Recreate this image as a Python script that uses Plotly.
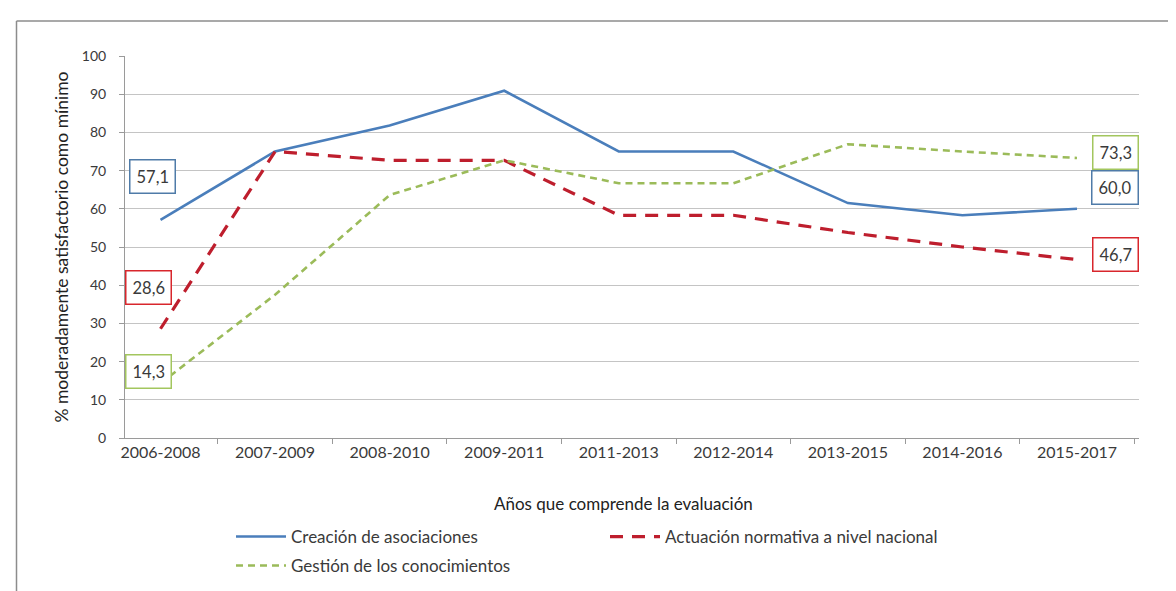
import plotly.graph_objects as go

# ---------------- data ----------------
periodos = ["2006-2008", "2007-2009", "2008-2010", "2009-2011", "2011-2013",
            "2012-2014", "2013-2015", "2014-2016", "2015-2017"]
creacion = [57.1, 75.0, 81.8, 90.9, 75.0, 75.0, 61.5, 58.3, 60.0]
actuacion = [28.6, 75.0, 72.7, 72.7, 58.3, 58.3, 53.8, 50.0, 46.7]
gestion = [14.3, 37.5, 63.6, 72.7, 66.7, 66.7, 76.9, 75.0, 73.3]
nombres = ["Creación de asociaciones", "Actuación normativa a nivel nacional",
           "Gestión de los conocimientos"]
y_ticks = list(range(0, 101, 10))
titulo_x = "Años que comprende la evaluación"
titulo_y = "% moderadamente satisfactorio como mínimo"

# ---------------- layout geometry (pixels) ----------------
W, H = 1176, 591
L, R, T, B = 117, 1131, 48, 430
pw, ph = R - L, B - T


def px(x):
    return (x - L) / pw


def py(y):
    return (B - y) / ph


FONT = "Lato"
TXT = "#3a3a3a"

blue, red, green = "#4A7EBB", "#BE1E2D", "#9BBB59"
box_blue, box_red, box_green = "#4F7BA8", "#D8262C", "#A3C65E"

fig = go.Figure()
fig.add_trace(go.Scatter(x=periodos, y=creacion, mode="lines", name=nombres[0],
                         line=dict(color=blue, width=2.6), legend="legend"))
fig.add_trace(go.Scatter(x=periodos, y=actuacion, mode="lines", name=nombres[1],
                         line=dict(color=red, width=3.2, dash="13px,9px"), legend="legend2"))
fig.add_trace(go.Scatter(x=periodos, y=gestion, mode="lines", name=nombres[2],
                         line=dict(color=green, width=2.6, dash="7px,5px"), legend="legend3"))


def fmt(v):
    return f"{v:.1f}".replace(".", ",")


labels = [
    (periodos[0], creacion[0], -8, 43, box_blue),
    (periodos[0], actuacion[0], -12, 41, box_red),
    (periodos[0], gestion[0], -12, 12, box_green),
    (periodos[-1], gestion[-1], 38, 5, box_green),
    (periodos[-1], creacion[-1], 38, 21, box_blue),
    (periodos[-1], actuacion[-1], 38, 5, box_red),
]
for xc, v, dx, dy, col in labels:
    fig.add_annotation(x=xc, y=v, xref="x", yref="y", text=fmt(v), showarrow=False,
                       xshift=dx, yshift=dy, bordercolor=col, borderwidth=1.5,
                       borderpad=6, bgcolor="white",
                       font=dict(family=FONT, size=16.5, color=TXT))

# x axis title
fig.add_annotation(x=px(615), y=py(495), xref="paper", yref="paper", text=titulo_x,
                   showarrow=False, xanchor="center", yanchor="middle",
                   font=dict(family=FONT, size=17, color="#222"))

# outer frame (partially visible)
frame = "#8C8C8C"
fig.add_shape(type="line", xref="paper", yref="paper", x0=px(8.5), x1=px(W + 5),
              y0=py(13), y1=py(13), line=dict(color=frame, width=1.5))
fig.add_shape(type="line", xref="paper", yref="paper", x0=px(8.5), x1=px(8.5),
              y0=py(13), y1=py(H + 5), line=dict(color=frame, width=1.5))

leg_common = dict(orientation="h", xanchor="left", yanchor="middle",
                  font=dict(family=FONT, size=17, color=TXT),
                  bgcolor="rgba(0,0,0,0)", itemwidth=50, borderwidth=0)

fig.update_layout(
    width=W, height=H, autosize=False, showlegend=True,
    margin=dict(l=L, r=W - R, t=T, b=H - B, pad=0),
    paper_bgcolor="white", plot_bgcolor="white",
    font=dict(family=FONT, color=TXT),
    xaxis=dict(type="category", tickson="boundaries", ticks="outside", ticklen=5,
               tickcolor="#9A9A9A", showline=True, linecolor="#9A9A9A", linewidth=1,
               showgrid=False, tickfont=dict(family=FONT, size=16, color=TXT),
               automargin=False, fixedrange=True),
    yaxis=dict(range=[0, 100], tickvals=y_ticks, ticks="outside", ticklen=5,
               tickcolor="#9A9A9A", showline=True, linecolor="#9A9A9A", linewidth=1,
               showgrid=True, gridcolor="#C4C4C4", gridwidth=1, zeroline=False,
               tickfont=dict(family=FONT, size=14, color=TXT), ticklabelstandoff=10,
               title=dict(text=titulo_y, standoff=8,
                          font=dict(family=FONT, size=17.5, color="#222")),
               automargin=False, fixedrange=True),
    legend=dict(x=px(223), y=py(529), **leg_common),
    legend2=dict(x=px(597), y=py(529), **leg_common),
    legend3=dict(x=px(223), y=py(558), **leg_common),
)

fig.write_html("out.html")
